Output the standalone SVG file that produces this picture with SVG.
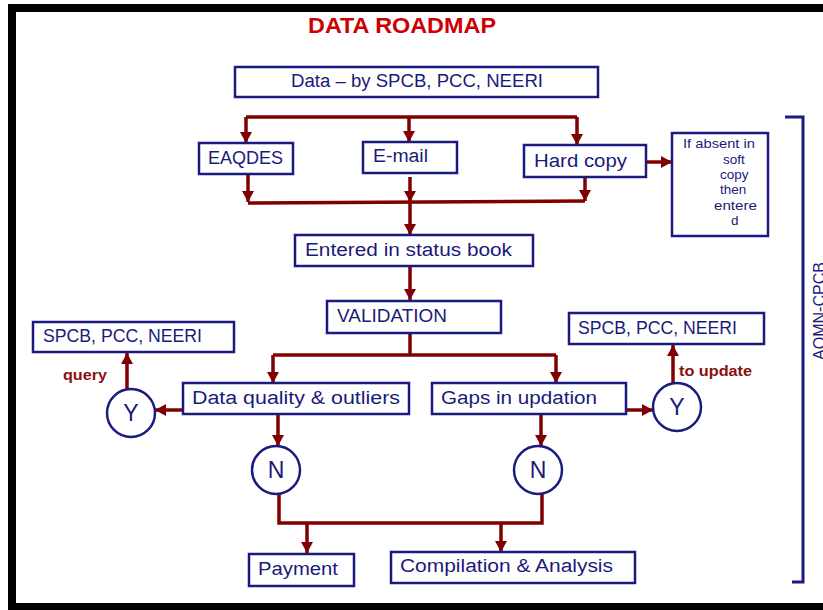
<svg xmlns="http://www.w3.org/2000/svg" width="823" height="610" viewBox="0 0 823 610">
<style>
.box{fill:#fff;stroke:#1a1a80;stroke-width:2.5}
.t{font-family:"Liberation Sans",Arial,sans-serif;font-size:18px;fill:#1a1a7a}
.yn{font-family:"Liberation Sans",Arial,sans-serif;font-size:23px;fill:#1a1a7a}
.s{font-family:"Liberation Sans",Arial,sans-serif;font-size:13.5px;fill:#1a1a7a}
.lbl{font-family:"Liberation Sans",Arial,sans-serif;font-size:14px;font-weight:bold;fill:#8b1010}
.c{fill:#fff;stroke:#1a1a80;stroke-width:2.5}
.ln{fill:none;stroke:#800000;stroke-width:3.5}
.ar{fill:none;stroke:#800000;stroke-width:3.5;marker-end:url(#ah)}
</style>
<defs>
<marker id="ah" markerUnits="userSpaceOnUse" markerWidth="12" markerHeight="12" refX="11" refY="6" orient="auto">
<path d="M0,0 L11,6 L0,12 z" fill="#800000"/>
</marker>
</defs>
<rect x="0" y="0" width="823" height="610" fill="#fff"/>
<rect x="12" y="8" width="830" height="599" fill="none" stroke="#000" stroke-width="8"/>
<text x="402" y="33" text-anchor="middle" font-family="'Liberation Sans',Arial,sans-serif" font-size="22" font-weight="bold" fill="#cc0000" textLength="188" lengthAdjust="spacingAndGlyphs">DATA ROADMAP</text>

<g id="connectors">
<path class="ln" d="M246,117 H577"/>
<path class="ar" d="M246,117 V143"/>
<path class="ar" d="M409,117 V142"/>
<path class="ar" d="M577,117 V145"/>
<path class="ar" d="M646,162 H672"/>
<path class="ar" d="M248,175 V202"/>
<path class="ar" d="M410,177 V202"/>
<path class="ar" d="M585,177 V201"/>
<path class="ln" d="M248,203 L585,201"/>
<path class="ar" d="M410,203 V235"/>
<path class="ar" d="M410,266 V300"/>
<path class="ln" d="M410,333 V355"/>
<path class="ln" d="M273,355 H556"/>
<path class="ar" d="M273,355 V383"/>
<path class="ar" d="M556,355 V383"/>
<path class="ar" d="M183,410 H155"/>
<path class="ar" d="M127,389 V353"/>
<path class="ar" d="M626,410 H653"/>
<path class="ar" d="M673,383 V345"/>
<path class="ar" d="M278,414 V446"/>
<path class="ar" d="M541,414 V446"/>
<path class="ln" d="M279,494 V523 H542 V494"/>
<path class="ar" d="M307,523 V553"/>
<path class="ar" d="M501,523 V552"/>
</g>

<g id="n-data"><rect class="box" x="235" y="67" width="363" height="30"/><text class="t" x="291" y="87" textLength="252" lengthAdjust="spacingAndGlyphs">Data – by SPCB, PCC, NEERI</text></g>
<g id="n-eaqdes"><rect class="box" x="199" y="143" width="94" height="31"/><text class="t" x="208" y="164" textLength="75" lengthAdjust="spacingAndGlyphs">EAQDES</text></g>
<g id="n-email"><rect class="box" x="363" y="142" width="94" height="31"/><text class="t" x="373" y="162" textLength="55" lengthAdjust="spacingAndGlyphs">E-mail</text></g>
<g id="n-hardcopy"><rect class="box" x="524" y="145" width="122" height="32"/><text class="t" x="534" y="167" textLength="93" lengthAdjust="spacingAndGlyphs">Hard copy</text></g>
<g id="n-absent"><rect class="box" x="672" y="133" width="96" height="103"/>
<text class="s" x="683" y="148" textLength="72" lengthAdjust="spacingAndGlyphs">If absent in</text>
<text class="s" x="723" y="164">soft</text>
<text class="s" x="720" y="179">copy</text>
<text class="s" x="720" y="194">then</text>
<text class="s" x="714" y="210" textLength="43" lengthAdjust="spacingAndGlyphs">entere</text>
<text class="s" x="731" y="225">d</text></g>
<g id="n-entered"><rect class="box" x="295" y="235" width="238" height="31"/><text class="t" x="305" y="256" textLength="207" lengthAdjust="spacingAndGlyphs">Entered in status book</text></g>
<g id="n-validation"><rect class="box" x="327" y="301" width="174" height="32"/><text class="t" x="337" y="322" textLength="110" lengthAdjust="spacingAndGlyphs">VALIDATION</text></g>
<g id="n-quality"><rect class="box" x="183" y="383" width="226" height="31"/><text class="t" x="192" y="404" textLength="208" lengthAdjust="spacingAndGlyphs">Data quality &amp; outliers</text></g>
<g id="n-gaps"><rect class="box" x="432" y="383" width="194" height="31"/><text class="t" x="441" y="404" textLength="156" lengthAdjust="spacingAndGlyphs">Gaps in updation</text></g>
<g id="n-spcb-left"><rect class="box" x="33" y="322" width="201" height="30"/><text class="t" x="43" y="342" textLength="159" lengthAdjust="spacingAndGlyphs">SPCB, PCC, NEERI</text></g>
<g id="n-spcb-right"><rect class="box" x="569" y="313" width="195" height="31"/><text class="t" x="578" y="334" textLength="159" lengthAdjust="spacingAndGlyphs">SPCB, PCC, NEERI</text></g>
<g id="n-y-left"><circle class="c" cx="131" cy="413" r="24"/><text class="yn" x="131" y="421" text-anchor="middle">Y</text></g>
<g id="n-y-right"><circle class="c" cx="677" cy="407" r="24"/><text class="yn" x="677" y="415" text-anchor="middle">Y</text></g>
<g id="n-n-left"><circle class="c" cx="276" cy="470" r="24"/><text class="yn" x="276" y="478" text-anchor="middle">N</text></g>
<g id="n-n-right"><circle class="c" cx="538" cy="470" r="24"/><text class="yn" x="538" y="478" text-anchor="middle">N</text></g>
<g id="n-payment"><rect class="box" x="249" y="554" width="105" height="32"/><text class="t" x="258" y="575" textLength="80" lengthAdjust="spacingAndGlyphs">Payment</text></g>
<g id="n-compilation"><rect class="box" x="391" y="552" width="244" height="31"/><text class="t" x="400" y="572" textLength="213" lengthAdjust="spacingAndGlyphs">Compilation &amp; Analysis</text></g>

<text class="lbl" x="63" y="380" textLength="44" lengthAdjust="spacingAndGlyphs">query</text>
<text class="lbl" x="679" y="376" textLength="73" lengthAdjust="spacingAndGlyphs">to update</text>

<g id="bracket">
<path d="M785,117 H803 V582 H792" fill="none" stroke="#1a1a80" stroke-width="3"/>
<text x="0" y="0" transform="translate(825,311) rotate(-90)" text-anchor="middle" font-family="'Liberation Sans',Arial,sans-serif" font-size="16" fill="#1a1a7a">AQMN-CPCB</text>
</g>
</svg>
